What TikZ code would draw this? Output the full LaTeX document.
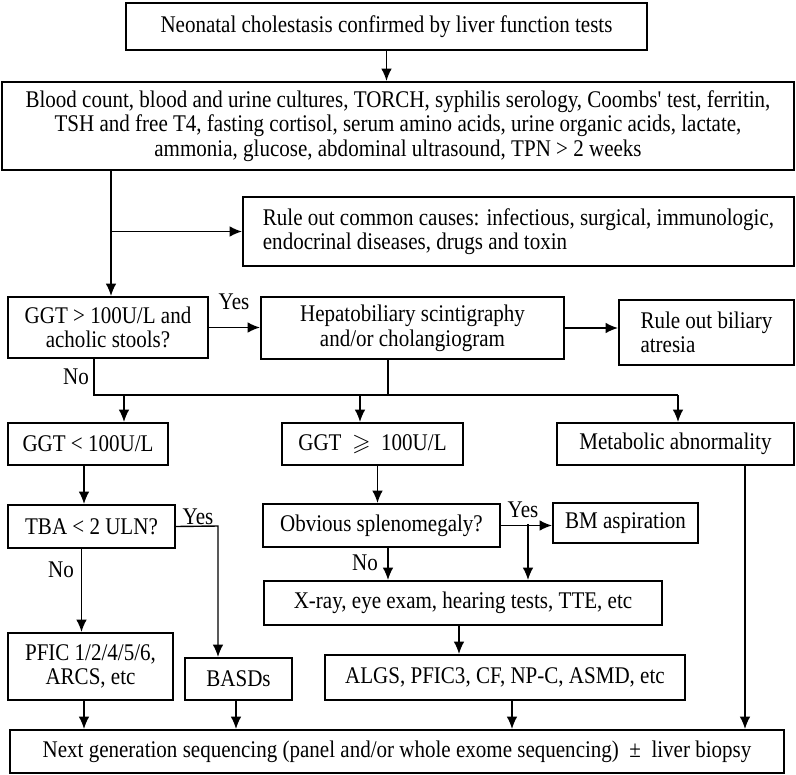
\documentclass[tikz,border=0pt]{standalone}
\usepackage{amssymb}
\usepackage{fontspec}
\setmainfont[FakeStretch=0.88]{Liberation Serif}
\usetikzlibrary{arrows.meta}

\begin{document}
\begin{tikzpicture}[x=0.02cm, y=-0.02cm, >={Latex[length=7pt, width=6pt]}, font=\fontsize{13.6}{14}\selectfont]
    \tikzstyle{box}=[draw, line width=1.2pt, align=center, inner sep=2pt]
    \tikzstyle{lbl}=[inner sep=1pt]
    \tikzstyle{link}=[->, line width=0.8pt]

    \useasboundingbox (0,0) rectangle (796,775);

    % Boxes centred at pixel positions (top to bottom)
    \node[box, minimum width=10.42cm, minimum height=0.94cm] (start) at (386.5,26.5) {Neonatal cholestasis confirmed by liver function tests};
    \node[box, minimum width=15.84cm, minimum height=1.76cm] (tests) at (398,126) {Blood count, blood and urine cultures, TORCH, syphilis serology, Coombs\textquotesingle\ test, ferritin,\\ TSH and free T4, fasting cortisol, serum amino acids, urine organic acids, lactate,\\ ammonia, glucose, abdominal ultrasound, TPN > 2 weeks};
    \node[box, align=left, minimum width=11.02cm, minimum height=1.38cm] (ruleout) at (518.5,231.5) {Rule out common causes: infectious, surgical, immunologic,\\ endocrinal diseases, drugs and toxin};
    \node[box, minimum width=4cm, minimum height=1.22cm] (ggt) at (108,327.5) {GGT > 100U/L and\\ acholic stools?};
    \node[box, minimum width=6.06cm, minimum height=1.24cm] (hepato) at (412.5,328) {Hepatobiliary scintigraphy\\ and/or cholangiogram};
    \node[box, align=left, minimum width=3.5cm, minimum height=1.3cm] (biliary) at (706.5,332.5) {Rule out biliary\\ atresia};
    \node[box, minimum width=3.2cm, minimum height=0.84cm] (low) at (88,444) {GGT < 100U/L};
    \node[box, minimum width=3.62cm, minimum height=0.84cm] (high) at (372.5,444) {GGT ~$\geqslant$~ 100U/L};
    \node[box, minimum width=4.74cm, minimum height=0.84cm] (metab) at (675.5,444) {Metabolic abnormality};
    \node[box, minimum width=3.34cm, minimum height=0.86cm] (tba) at (91.5,526.5) {TBA < 2 ULN?};
    \node[box, minimum width=4.74cm, minimum height=0.86cm] (spleno) at (381.5,525.5) {Obvious splenomegaly?};
    \node[box, minimum width=2.9cm, minimum height=0.8cm] (bm) at (625.5,523) {BM aspiration};
    \node[box, minimum width=7.96cm, minimum height=0.88cm] (xray) at (463,603) {X-ray, eye exam, hearing tests, TTE, etc};
    \node[box, minimum width=3.3cm, minimum height=1.34cm] (pfic) at (90.5,666.5) {PFIC 1/2/4/5/6,\\ ARCS, etc};
    \node[box, minimum width=2.14cm, minimum height=0.84cm] (basds) at (238.5,679) {BASDs};
    \node[box, minimum width=7.2cm, minimum height=0.9cm] (algs) at (505,677.5) {ALGS, PFIC3, CF, NP-C, ASMD, etc};
    \node[box, minimum width=15.48cm, minimum height=0.86cm] (ngs) at (397,751.5) {Next generation sequencing (panel and/or whole exome sequencing)~ ±~ liver biopsy};

    % Yes / No labels
    \node[lbl] (yesA) at (234,302) {Yes};
    \node[lbl] (noA) at (76,377) {No};
    \node[lbl] (yesB) at (198,517) {Yes};
    \node[lbl] (noB) at (61,570) {No};
    \node[lbl] (yesC) at (523,510) {Yes};
    \node[lbl] (noC) at (365,563) {No};

    % Upper part
    \draw[link] (start.south) -- (start.south |- tests.north);
    \draw[link] ([xshift=0.06cm]tests.south -| ggt.north) -- ([xshift=0.06cm]ggt.north);
    \draw[link] ([xshift=0.06cm]ggt.north |- ruleout.west) -- (ruleout.west);
    \draw[link] (ggt.east) -- (ggt.east -| hepato.west);
    \draw[link] (hepato.east) -- (hepato.east -| biliary.west);

    % Split into three branches
    \coordinate (nojoin) at (94,395);
    \coordinate (hepjoin) at (388,395);
    \coordinate (tolow) at (124,395);
    \coordinate (tohigh) at (360,395);
    \coordinate (tometab) at (678,395);
    \draw[line width=0.8pt] (ggt.south -| nojoin) -- (nojoin) -- (tometab);
    \draw[line width=0.8pt] (hepato.south -| hepjoin) -- (hepjoin);
    \draw[link] (tolow) -- (tolow |- low.north);
    \draw[link] (tohigh) -- (tohigh |- high.north);
    \draw[link] (tometab) -- (tometab |- metab.north);

    % Left branch
    \coordinate (yesbend) at (218,526);
    \draw[link] ([xshift=-0.08cm]low.south) -- ([xshift=-0.08cm]low.south |- tba.north);
    \draw[link] (tba.east) -- (yesbend) -- (yesbend |- basds.north);
    \draw[link] ([xshift=-0.2cm]tba.south) -- ([xshift=-0.2cm]tba.south |- pfic.north);

    % Middle branch
    \coordinate (yesdrop) at (528,524);
    \draw[link] ([xshift=0.1cm]high.south) -- ([xshift=0.1cm]high.south |- spleno.north);
    \draw[link] (spleno.east) -- (spleno.east -| bm.west);
    \draw[link] (yesdrop) -- (yesdrop |- xray.north);
    \draw[link] ([xshift=0.13cm]spleno.south) -- ([xshift=0.13cm]spleno.south |- xray.north);
    \draw[link] ([xshift=-0.08cm]xray.south) -- ([xshift=-0.08cm]xray.south |- algs.north);

    % Into the final box
    \coordinate (metabdrop) at (745,465);
    \draw[link] ([xshift=-0.13cm]pfic.south) -- ([xshift=-0.13cm]pfic.south |- ngs.north);
    \draw[link] ([xshift=-0.05cm]basds.south) -- ([xshift=-0.05cm]basds.south |- ngs.north);
    \draw[link] ([xshift=0.14cm]algs.south) -- ([xshift=0.14cm]algs.south |- ngs.north);
    \draw[link] (metab.south -| metabdrop) -- (metabdrop |- ngs.north);
\end{tikzpicture}
\end{document}
